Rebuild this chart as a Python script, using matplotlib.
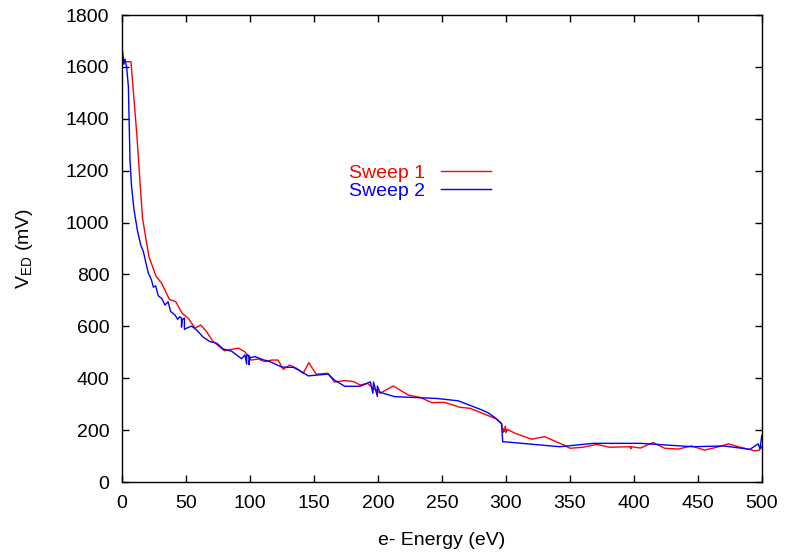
import matplotlib
matplotlib.use("Agg")
import matplotlib.pyplot as plt

# data
sweep1_x = [0, 1, 7, 11.5, 16, 21, 26.5, 31, 37, 42, 47, 52, 57, 61.5, 66, 71, 80, 91, 96,
            101, 106.5, 111.7, 117, 122, 126, 131, 136.5, 141.6, 146, 151.6, 161, 166, 174,
            181, 186, 192, 196, 199, 201.5, 212, 223.7, 233, 242, 252, 264, 272, 285, 293,
            296.6, 297.5, 298, 299, 299.5, 300, 301, 307, 320, 330, 345, 350, 360, 371, 381,
            397, 397.5, 398, 405, 415, 424, 434.6, 445, 455, 464.6, 473.7, 483, 494.5, 498,
            499, 500]
sweep1_y = [1605, 1620, 1620, 1345, 1018, 869, 794, 766, 704, 695, 650, 630, 593, 605, 580,
            543, 506, 516, 502, 470, 474, 464, 470, 470, 434, 451, 438, 419, 460, 416, 419,
            385, 391, 387, 374, 380, 361, 355, 342, 370, 335, 326, 306, 307, 288, 284, 258,
            242, 225, 190, 205, 195, 215, 190, 203, 188, 165, 175, 143, 130, 134, 145, 134,
            136, 128, 136, 131, 152, 130, 127, 139, 123, 134, 147, 134, 120, 123, 140, 130]

sweep2_x = [0, 0.5, 1.5, 2.3, 3.6, 5, 6.25, 7.5, 9.4, 12, 14.6, 16.7, 18.75, 20.6, 23, 24.5,
            26.3, 28.4, 31, 33.6, 36, 38, 41.4, 43.5, 45, 46.5, 46.5, 47, 48.8, 48.8, 50.5,
            54.4, 58.3, 63.5, 68.75, 74, 79, 85.7, 93.5, 96, 97.4, 97.4, 99.2, 99.2, 100,
            104, 110.4, 115.6, 124.8, 133.8, 139, 145.5, 161, 166, 174, 186, 194, 196, 196.5,
            199.5, 199.5, 201.5, 213, 227.6, 246, 262.7, 280, 286, 291.4, 296.6, 297.4, 299,
            342, 368, 405, 446, 470, 490.6, 497, 498.5, 499.7, 500]
sweep2_y = [1600, 1659, 1610, 1630, 1601, 1524, 1241, 1138, 1049, 971, 914, 888, 843, 805,
            779, 751, 756, 717, 708, 682, 695, 657, 644, 627, 637, 632, 597, 625, 632, 588,
            593, 601, 586, 558, 541, 535, 513, 504, 475, 490, 455, 490, 488, 452, 480, 483,
            471, 464, 443, 442, 429, 409, 416, 393, 369, 369, 386, 342, 385, 330, 370, 346,
            329, 326, 322, 313, 280, 267, 248, 224, 155, 155, 136, 149, 149, 136, 139, 126,
            147, 128, 175, 180]

x_ticks = list(range(0, 501, 50))
y_ticks = list(range(0, 1801, 200))

plt.rcParams['font.family'] = ['Liberation Sans', 'DejaVu Sans']
plt.rcParams['mathtext.default'] = 'regular'

fig = plt.figure(figsize=(7.85, 5.52), dpi=100)
ax = fig.add_axes([0.1554, 0.1268, 0.8153, 0.846])

ax.plot(sweep1_x, sweep1_y, color='red', lw=1.0, label='Sweep 1')
ax.plot(sweep2_x, sweep2_y, color='blue', lw=1.0, label='Sweep 2')

ax.set_xlim(0, 500)
ax.set_ylim(0, 1800)
ax.set_xticks(x_ticks)
ax.set_yticks(y_ticks)
ax.tick_params(direction='in', length=5, width=1, labelsize=14, pad=9,
               top=True, right=True)
for sp in ax.spines.values():
    sp.set_linewidth(1.0)

ax.set_xlabel('e- Energy (eV)', fontsize=14, labelpad=15)
ax.set_ylabel('V$_{ED}$ (mV)', fontsize=14, labelpad=22)

ax.legend(loc='center', bbox_to_anchor=(0.466, 0.642), frameon=False, markerfirst=False,
          labelcolor='linecolor', fontsize=14, handlelength=2.6, handletextpad=0.8,
          labelspacing=0.05)

fig.savefig('out.png', dpi=100)
